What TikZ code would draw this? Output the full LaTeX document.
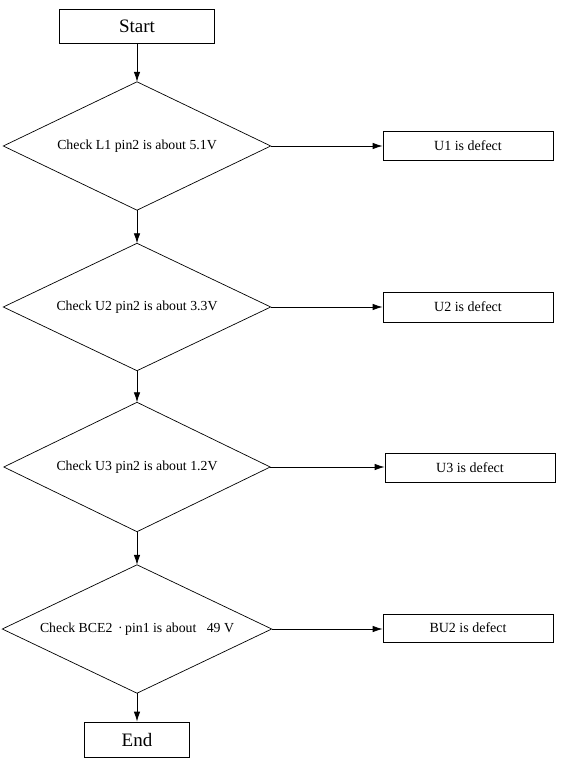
\documentclass[tikz,border=0pt]{standalone}
\usepackage{fontspec}
\setmainfont{Liberation Serif}
\usetikzlibrary{arrows.meta}
\begin{document}
\begin{tikzpicture}[x=1pt,y=-1pt,
  termbox/.style={draw, line width=0.8pt, inner sep=0pt, font=\fontsize{19}{21}\selectfont},
  decbox/.style={inner sep=0pt, font=\fontsize{13.8}{15}\selectfont},
  decline/.style={draw, line width=0.7pt, line join=miter},
  resbox/.style={draw, line width=0.8pt, inner sep=0pt, minimum width=170pt, font=\fontsize{14}{16}\selectfont},
  flow/.style={draw, line width=0.8pt, -{Latex[length=10pt,width=6.5pt]}}]
\useasboundingbox (0,0) rectangle (566,765);
\node[termbox, minimum width=155pt, minimum height=34pt] (start) at (137,26) {Start};
\node[decbox, minimum width=267pt, minimum height=128pt] (d1) at (137,146) {Check L1 pin2 is about 5.1V};
\node[decbox, minimum width=267pt, minimum height=127pt] (d2) at (137,307) {Check U2 pin2 is about 3.3V};
\node[decbox, minimum width=266pt, minimum height=129pt] (d3) at (137,467) {Check U3 pin2 is about 1.2V};
\node[decbox, minimum width=269pt, minimum height=128pt] (d4) at (137,629) {Check BCE2 \,·\,pin1 is about \ \ 49 V};
\foreach \d in {d1,d2,d3,d4}
  \draw[decline] (\d.north) -- (\d.east) -- (\d.south) -- (\d.west) -- cycle;
\node[termbox, minimum width=105pt, minimum height=35pt] (end) at (137,739.5) {End};
\node[resbox, minimum height=29pt] (b1) at (468,145.5) {U1 is defect};
\node[resbox, minimum height=30pt] (b2) at (468,307) {U2 is defect};
\node[resbox, minimum height=29pt] (b3) at (470,467.5) {U3 is defect};
\node[resbox, minimum height=28pt] (b4) at (468,628) {BU2 is defect};
\draw[flow] (start.south) -- (d1.north);
\draw[flow] (d1.south) -- (d2.north);
\draw[flow] (d2.south) -- (d3.north);
\draw[flow] (d3.south) -- (d4.north);
\draw[flow] (d4.south) -- (end.north);
\draw[flow] (d1.east) -- (b1.west |- d1.east);
\draw[flow] (d2.east) -- (b2.west |- d2.east);
\draw[flow] (d3.east) -- (b3.west |- d3.east);
\draw[flow] (d4.east) -- (b4.west |- d4.east);
\end{tikzpicture}
\end{document}
